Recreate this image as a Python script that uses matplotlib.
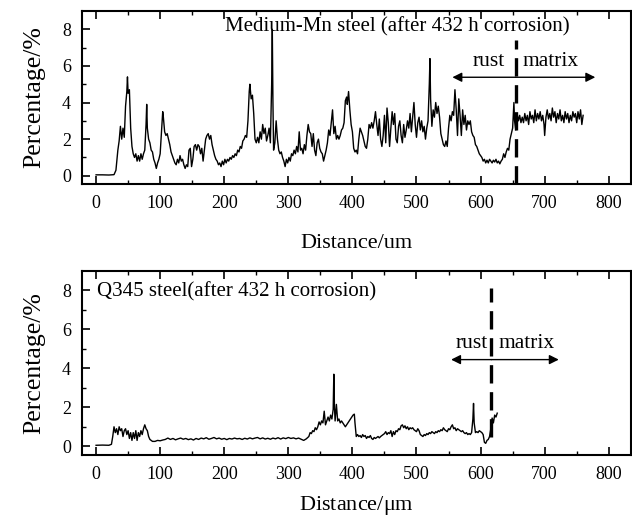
import matplotlib
matplotlib.use('Agg')
import matplotlib.pyplot as plt

plt.rcParams['font.family'] = ['Liberation Serif', 'DejaVu Serif']
plt.rcParams['mathtext.fontset'] = 'stix'

# Medium-Mn steel profile (distance um, percentage)
mn_profile = [
    (0, 0.05), (10, 0.05), (20, 0.04), (28, 0.06), (31, 0.3), (34, 1.4), (36, 1.9), (38, 2.7),
    (40, 2.0), (42, 2.6), (44, 2.1), (46, 3.8), (48, 4.6), (49, 5.4), (50, 4.5), (52, 4.7),
    (54, 2.6), (56, 1.6), (58, 1.2), (60, 1.0), (62, 1.2), (64, 0.8), (66, 1.1), (68, 0.8),
    (70, 1.2), (72, 0.9), (74, 1.2), (76, 1.4), (78, 2.8), (79, 3.9), (80, 2.6), (82, 2.0),
    (84, 1.8), (86, 1.4), (88, 1.3), (90, 0.9), (92, 0.7), (94, 0.4), (96, 0.7), (98, 0.9),
    (100, 1.2), (102, 2.4), (104, 3.5), (105, 3.2), (107, 2.4), (109, 2.2), (111, 2.3), (113, 2.0),
    (115, 1.7), (117, 1.3), (119, 1.1), (121, 0.9), (123, 0.7), (125, 0.6), (127, 0.9), (129, 0.7),
    (131, 1.1), (133, 0.8), (135, 0.9), (137, 0.6), (139, 0.4), (141, 0.6), (143, 0.5), (145, 1.4),
    (147, 1.5), (149, 0.5), (151, 0.9), (153, 1.6), (155, 1.7), (157, 1.4), (159, 1.7), (161, 1.6),
    (163, 1.2), (165, 1.5), (167, 0.8), (169, 1.4), (171, 2.0), (173, 2.2), (175, 2.3), (177, 2.0),
    (179, 2.2), (181, 1.7), (183, 1.4), (185, 1.1), (187, 0.9), (189, 0.8), (191, 0.6), (193, 0.7),
    (195, 0.5), (197, 0.8), (199, 0.6), (201, 0.9), (203, 0.7), (205, 0.9), (207, 0.8), (209, 1.0),
    (211, 0.9), (213, 1.1), (215, 1.0), (217, 1.2), (219, 1.1), (221, 1.4), (223, 1.3), (225, 1.6),
    (227, 1.5), (229, 1.9), (231, 2.0), (233, 2.2), (235, 2.1), (237, 3.0), (239, 4.6), (240, 5.0),
    (242, 4.2), (244, 4.4), (246, 3.4), (248, 2.0), (250, 1.8), (252, 2.1), (254, 1.8), (256, 2.4),
    (258, 2.0), (260, 2.8), (262, 2.3), (264, 2.6), (266, 1.9), (268, 2.2), (270, 2.6), (272, 1.8),
    (274, 5.0), (275, 8.0), (276, 4.0), (277, 1.4), (279, 1.8), (281, 3.0), (283, 2.0), (285, 1.4),
    (287, 1.2), (289, 1.3), (291, 1.0), (293, 0.8), (295, 0.5), (297, 0.9), (299, 0.7), (301, 1.0),
    (303, 0.8), (305, 1.2), (307, 1.1), (309, 1.4), (311, 1.2), (313, 1.6), (315, 1.3), (317, 2.4),
    (319, 1.4), (321, 1.5), (323, 1.2), (325, 1.7), (327, 1.4), (329, 2.2), (331, 2.8), (333, 2.4),
    (335, 2.3), (337, 1.6), (339, 2.3), (341, 1.4), (343, 1.1), (345, 1.8), (347, 2.0), (349, 1.5),
    (351, 1.3), (353, 1.2), (355, 0.8), (357, 1.1), (359, 1.4), (361, 1.8), (363, 2.5), (365, 2.2),
    (367, 2.9), (369, 3.6), (371, 2.3), (373, 2.7), (375, 2.0), (377, 2.2), (379, 2.0), (381, 2.2),
    (383, 2.5), (385, 2.6), (387, 2.9), (389, 4.1), (391, 4.3), (392, 3.9), (394, 4.6), (396, 3.6),
    (398, 2.8), (400, 2.4), (402, 1.5), (404, 1.3), (406, 1.4), (408, 1.2), (410, 2.0), (412, 2.6),
    (414, 2.4), (416, 2.2), (418, 1.9), (420, 1.6), (422, 1.5), (424, 2.0), (426, 2.8), (428, 2.6),
    (430, 2.9), (432, 2.6), (434, 3.0), (436, 3.5), (438, 2.8), (440, 2.2), (442, 3.1), (444, 2.0),
    (446, 1.6), (448, 2.2), (450, 3.3), (452, 1.8), (454, 3.7), (456, 2.9), (458, 1.6), (460, 2.6),
    (462, 3.5), (464, 2.8), (466, 3.4), (468, 2.0), (470, 1.8), (472, 2.7), (474, 3.0), (476, 2.2),
    (478, 1.8), (480, 2.8), (482, 2.1), (484, 2.5), (486, 3.0), (488, 2.6), (490, 3.4), (492, 2.4),
    (494, 3.2), (496, 4.0), (498, 2.8), (500, 2.1), (502, 2.9), (504, 3.2), (506, 2.5), (508, 3.0),
    (510, 2.4), (512, 2.7), (514, 2.0), (516, 2.6), (518, 3.0), (520, 5.0), (521, 6.4), (522, 4.2),
    (524, 2.7), (526, 3.6), (528, 3.2), (530, 4.0), (532, 3.4), (534, 3.8), (536, 3.2), (538, 2.3),
    (540, 2.0), (542, 1.7), (544, 1.6), (546, 1.9), (548, 1.6), (550, 2.6), (552, 3.3), (554, 3.0),
    (556, 3.5), (558, 3.3), (560, 4.7), (562, 3.6), (564, 2.2), (566, 4.2), (568, 3.3), (570, 2.2),
    (572, 3.6), (574, 2.8), (576, 3.3), (578, 2.5), (580, 3.0), (582, 2.8), (584, 3.0), (586, 2.4),
    (588, 2.2), (590, 2.1), (592, 1.7), (594, 1.6), (596, 1.4), (598, 1.2), (600, 1.1), (602, 1.0),
    (604, 0.8), (606, 0.9), (608, 0.7), (610, 0.85), (612, 0.7), (614, 0.9), (616, 0.8), (618, 0.7),
    (620, 0.85), (622, 0.75), (624, 0.9), (626, 0.7), (628, 0.8), (630, 0.65), (632, 0.8), (634, 0.9),
    (636, 1.2), (638, 1.0), (640, 1.3), (642, 1.5), (644, 1.4), (646, 2.0), (648, 2.3), (650, 2.6),
    (652, 4.0), (653, 3.0), (655, 2.5), (657, 3.4), (659, 3.0), (661, 3.3), (663, 2.9), (665, 3.2),
    (667, 2.9), (669, 3.4), (671, 3.0), (673, 3.3), (675, 2.8), (677, 3.5), (679, 3.1), (681, 3.3),
    (683, 2.9), (685, 3.6), (687, 3.0), (689, 3.4), (691, 3.1), (693, 3.5), (695, 3.0), (697, 3.3),
    (699, 2.8), (700, 2.2), (702, 3.2), (704, 3.6), (706, 3.1), (708, 3.4), (710, 3.0), (712, 3.7),
    (714, 3.2), (716, 3.5), (718, 2.9), (720, 3.4), (722, 3.1), (724, 3.6), (726, 3.0), (728, 3.3),
    (730, 2.9), (732, 3.5), (734, 3.1), (736, 3.4), (738, 2.9), (740, 3.3), (742, 3.0), (744, 3.5),
    (746, 3.2), (748, 3.4), (750, 2.9), (752, 3.5), (754, 3.1), (756, 3.6), (758, 2.8), (760, 3.3),
]

# Q345 steel profile (distance um, percentage)
q345_profile = [
    (0, 0.05), (10, 0.06), (20, 0.05), (24, 0.1), (26, 0.5), (28, 1.0), (30, 0.7), (32, 0.9),
    (34, 0.6), (36, 1.0), (38, 0.8), (40, 0.9), (42, 0.5), (44, 0.8), (46, 0.9), (48, 0.6),
    (50, 0.8), (52, 0.4), (54, 0.7), (56, 0.3), (58, 0.7), (60, 0.4), (62, 0.8), (64, 0.3),
    (66, 0.7), (68, 0.5), (70, 0.8), (72, 0.6), (74, 0.9), (76, 1.1), (78, 0.9), (80, 0.8),
    (82, 0.5), (84, 0.35), (86, 0.3), (88, 0.25), (92, 0.25), (96, 0.3), (100, 0.28), (104, 0.32),
    (108, 0.35), (112, 0.42), (116, 0.35), (120, 0.4), (124, 0.33), (128, 0.38), (132, 0.42), (136, 0.36),
    (140, 0.4), (144, 0.34), (148, 0.38), (152, 0.32), (156, 0.4), (160, 0.35), (164, 0.42), (168, 0.38),
    (172, 0.44), (176, 0.36), (180, 0.4), (184, 0.45), (188, 0.38), (192, 0.42), (196, 0.36), (200, 0.4),
    (204, 0.34), (208, 0.4), (212, 0.37), (216, 0.42), (220, 0.38), (224, 0.4), (228, 0.35), (232, 0.41),
    (236, 0.37), (240, 0.43), (244, 0.38), (248, 0.42), (252, 0.45), (256, 0.38), (260, 0.43), (264, 0.37),
    (268, 0.41), (272, 0.36), (276, 0.42), (280, 0.38), (284, 0.44), (288, 0.37), (292, 0.43), (296, 0.39),
    (300, 0.45), (304, 0.4), (308, 0.43), (312, 0.38), (316, 0.42), (320, 0.36), (324, 0.3), (328, 0.38),
    (332, 0.5), (334, 0.7), (336, 0.65), (338, 0.8), (340, 0.75), (342, 0.95), (344, 0.85), (346, 1.0),
    (348, 1.25), (350, 1.1), (352, 1.3), (354, 1.2), (356, 1.8), (358, 1.1), (360, 1.3), (362, 1.5),
    (364, 1.3), (366, 1.6), (368, 1.4), (370, 1.9), (371, 3.7), (372, 2.0), (373, 1.3), (375, 2.15),
    (377, 1.3), (379, 1.4), (381, 1.2), (383, 1.3), (385, 1.2), (387, 1.1), (389, 1.0), (391, 1.1),
    (393, 1.2), (395, 1.3), (397, 1.4), (399, 1.5), (401, 1.6), (403, 1.65), (404, 1.2), (406, 0.5),
    (408, 0.6), (410, 0.5), (412, 0.55), (414, 0.45), (416, 0.6), (418, 0.5), (420, 0.55), (422, 0.4),
    (424, 0.5), (426, 0.45), (428, 0.55), (430, 0.4), (432, 0.35), (434, 0.45), (436, 0.4), (438, 0.45),
    (440, 0.5), (442, 0.43), (444, 0.5), (446, 0.55), (448, 0.6), (450, 0.65), (452, 0.75), (454, 0.6),
    (456, 0.7), (458, 0.65), (460, 0.8), (462, 0.5), (464, 0.75), (466, 0.6), (468, 0.8), (470, 0.75),
    (472, 0.9), (474, 0.85), (476, 1.05), (478, 1.1), (480, 0.95), (482, 1.05), (484, 0.9), (486, 1.0),
    (488, 0.85), (490, 0.95), (492, 0.9), (494, 0.95), (496, 0.85), (498, 0.8), (500, 0.75), (502, 0.9),
    (504, 0.8), (506, 0.6), (508, 0.55), (510, 0.5), (512, 0.6), (514, 0.55), (516, 0.65), (518, 0.6),
    (520, 0.7), (522, 0.65), (524, 0.75), (526, 0.7), (528, 0.65), (530, 0.75), (532, 0.7), (534, 0.8),
    (536, 0.75), (538, 0.85), (540, 0.8), (542, 0.95), (544, 0.85), (546, 0.8), (548, 0.75), (550, 0.9),
    (552, 0.85), (554, 1.0), (556, 1.1), (558, 0.9), (560, 0.95), (562, 0.8), (564, 0.9), (566, 0.85),
    (568, 0.8), (570, 0.75), (572, 0.8), (574, 0.7), (576, 0.65), (578, 0.7), (580, 0.6), (582, 0.65),
    (584, 0.6), (586, 0.7), (588, 1.4), (589, 2.2), (590, 1.2), (592, 0.7), (594, 0.75), (596, 0.7),
    (598, 0.8), (600, 0.75), (602, 0.7), (604, 0.6), (606, 0.2), (608, 0.15), (610, 0.3), (612, 0.35),
    (614, 0.5), (616, 0.9), (618, 1.45), (620, 1.2), (622, 1.6), (624, 1.5), (626, 1.7),
]

titles = ['Medium-Mn steel (after 432 h corrosion)', 'Q345 steel(after 432 h corrosion)']
xlabels = ['Distance/um', r'Distance/$\mathregular{\mu}$m']
interface = [655, 617]      # rust / matrix boundary (um)
arrow_y = [5.38, 4.45]
rust_end = [556, 554]
matrix_end = [779, 722]

fig = plt.figure(figsize=(6.32, 5.18), dpi=100)
ax1 = fig.add_axes([0.1297, 0.6448, 0.869, 0.334])
ax2 = fig.add_axes([0.1297, 0.1216, 0.869, 0.3552])

for i, (ax, prof) in enumerate(zip([ax1, ax2], [mn_profile, q345_profile])):
    xs = [p[0] for p in prof]
    ys = [p[1] for p in prof]
    ax.plot(xs, ys, color='black', lw=1.0)
    ax.set_xlim(-22, 835)
    ax.set_ylim(-0.45, 9.0)
    ax.set_xticks(range(0, 801, 100))
    ax.set_xticks(range(50, 801, 100), minor=True)
    ax.set_yticks(range(0, 9, 2))
    ax.set_yticks(range(1, 9, 2), minor=True)
    ax.tick_params(which='major', direction='in', length=6, width=1.2, labelsize=13, top=True, pad=8)
    ax.tick_params(which='minor', direction='in', length=3, width=1.0, top=True)
    for s in ax.spines.values():
        s.set_linewidth(1.5)
    ax.set_xlabel(xlabels[i], fontsize=16, labelpad=16 if i == 0 else 8)
    ax.set_ylabel('Percentage/%', fontsize=18.5, labelpad=12)

    # boundary line and region arrows
    ax.axvline(interface[i], ymin=0.0 if i == 0 else 0.1, ymax=0.83 if i == 0 else 0.91,
               color='black', lw=2.4, dashes=(5.5, 2.6))
    ax.annotate('', xy=(rust_end[i], arrow_y[i]), xytext=(interface[i], arrow_y[i]),
                arrowprops=dict(arrowstyle='-|>', color='black', lw=1.0, mutation_scale=14,
                                shrinkA=0, shrinkB=0))
    ax.annotate('', xy=(matrix_end[i], arrow_y[i]), xytext=(interface[i], arrow_y[i]),
                arrowprops=dict(arrowstyle='-|>', color='black', lw=1.0, mutation_scale=14,
                                shrinkA=0, shrinkB=0))
    ax.text((rust_end[i] + interface[i]) / 2 + (8 if i == 0 else 0), arrow_y[i] + 0.35, 'rust',
            ha='center', va='bottom', fontsize=15.5)
    ax.text(interface[i] + (54 if i == 0 else 55), arrow_y[i] + 0.35, 'matrix',
            ha='center', va='bottom', fontsize=15.5)

ax1.text(470, 8.15, titles[0], ha='center', va='center', fontsize=15)
ax2.text(2, 7.95, titles[1], ha='left', va='center', fontsize=15)

fig.savefig('out.png', dpi=100)
